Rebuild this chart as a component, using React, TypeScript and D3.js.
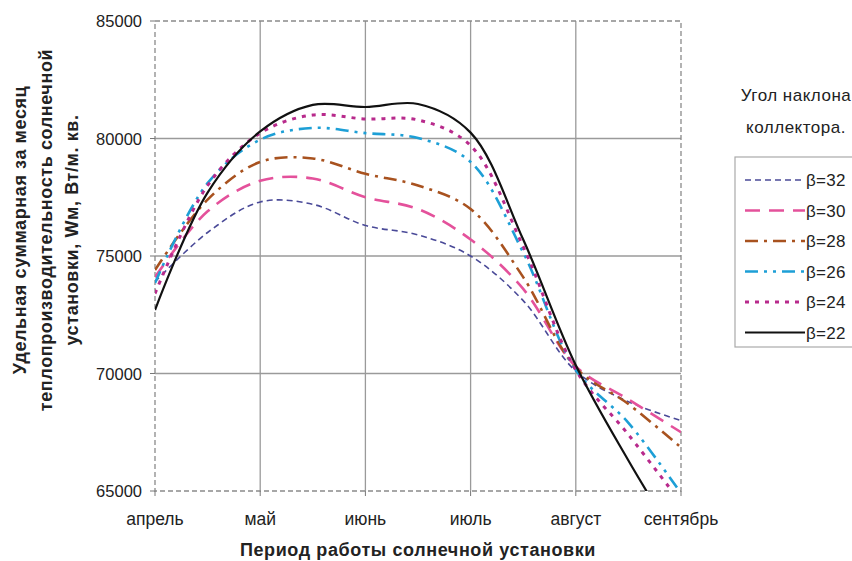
import * as d3 from 'd3';

const months = ['апрель', 'май', 'июнь', 'июль', 'август', 'сентябрь'];
// half-month steps: 0 = апрель, 1 = май ... 5 = сентябрь
const steps = [0, 0.5, 1, 1.5, 2, 2.5, 3, 3.5, 4, 4.5, 5];
const yTicks = [65000, 70000, 75000, 80000, 85000];

const b32 = [73900, 76000, 77300, 77200, 76300, 75900, 75000, 73100, 70100, 68800, 68000];
const b30 = [74100, 76900, 78200, 78300, 77500, 77000, 75700, 73600, 70300, 68900, 67500];
const b28 = [74400, 77400, 79000, 79150, 78500, 78000, 77000, 74100, 70250, 68700, 66850];
const b26 = [73850, 78100, 79950, 80450, 80230, 80020, 79000, 75150, 70150, 67900, 64900];
const b24 = [73400, 78000, 80230, 81000, 80830, 80790, 79700, 75400, 70150, 67400, 64500];
const b22 = [72700, 77700, 80300, 81430, 81340, 81470, 80250, 75700, 70350, 66300, 62600];

const series = [
  { name: 'β=32', values: b32, color: '#4a4a98', width: 1.6, dash: '6 4' },
  { name: 'β=30', values: b30, color: '#e4519b', width: 2.6, dash: '15 9' },
  { name: 'β=28', values: b28, color: '#a8521f', width: 2.6, dash: '13 6 3 6' },
  { name: 'β=26', values: b26, color: '#1d9fd6', width: 2.6, dash: '13 6 3 6 3 6' },
  { name: 'β=24', values: b24, color: '#b82a8c', width: 3, dash: '4 6' },
  { name: 'β=22', values: b22, color: '#111111', width: 2.2, dash: undefined as string | undefined },
];

export default function App() {
  const left = 155;
  const right = 681;
  const top = 21;
  const bottom = 491;
  const x = d3.scaleLinear().domain([0, 5]).range([left, right]);
  const y = d3.scaleLinear().domain([65000, 85000]).range([bottom, top]);
  const line = d3
    .line<number>()
    .x((_, i) => x(steps[i]))
    .y((d) => y(d))
    .curve(d3.curveCatmullRom.alpha(0.5));

  const font = '"Liberation Sans", Arial, sans-serif';
  const legendTop = 180;
  const legendGap = 30.5;

  return (
    <svg
      width={852}
      height={561}
      style={{ position: 'absolute', left: 0, top: 0, background: '#fff' }}
      fontFamily={font}
    >
      <defs>
        <clipPath id="plot">
          <rect x={left} y={top} width={right - left} height={bottom - top} />
        </clipPath>
      </defs>

      {/* grid */}
      {yTicks.slice(1, -1).map((t) => (
        <line key={t} x1={left} x2={right} y1={y(t)} y2={y(t)} stroke="#9a9a9a" strokeWidth={1.3} />
      ))}
      {months.slice(1, -1).map((m, i) => (
        <line key={m} x1={x(i + 1)} x2={x(i + 1)} y1={top} y2={bottom} stroke="#9a9a9a" strokeWidth={1.3} />
      ))}
      <rect
        x={left}
        y={top}
        width={right - left}
        height={bottom - top}
        fill="none"
        stroke="#8a8a8a"
        strokeWidth={1.3}
        strokeDasharray="5 3"
      />

      {/* ticks */}
      {yTicks.map((t) => (
        <g key={t}>
          <line x1={left - 5} x2={left} y1={y(t)} y2={y(t)} stroke="#777" />
          <text x={left - 13} y={y(t) + 6} textAnchor="end" fontSize={16.5} fill="#222">
            {t}
          </text>
        </g>
      ))}
      {months.map((m, i) => (
        <g key={m}>
          <line x1={x(i)} x2={x(i)} y1={bottom} y2={bottom + 5} stroke="#777" />
          <text x={x(i)} y={bottom + 34} textAnchor="middle" fontSize={17.5} fill="#222">
            {m}
          </text>
        </g>
      ))}

      {/* series */}
      <g clipPath="url(#plot)">
        {series.map((s) => (
          <path
            key={s.name}
            d={line(s.values) ?? ''}
            fill="none"
            stroke={s.color}
            strokeWidth={s.width}
            strokeDasharray={s.dash}
          />
        ))}
      </g>

      {/* axis titles */}
      <text x={418} y={556} textAnchor="middle" fontSize={18} fontWeight="bold" letterSpacing={0.6} fill="#222">
        Период работы солнечной установки
      </text>
      <g
        transform="translate(0,230) rotate(-90)"
        fontSize={18}
        fontWeight="bold"
        letterSpacing={0.6}
        fill="#222"
        textAnchor="middle"
      >
        <text x={0} y={26}>Удельная суммарная за месяц</text>
        <text x={0} y={52}>теплопроизводительность солнечной</text>
        <text x={0} y={78}>установки, Wм, Вт/м. кв.</text>
      </g>

      {/* legend */}
      <text x={796} y={101} textAnchor="middle" fontSize={17} letterSpacing={0.5} fill="#222">
        Угол наклона
      </text>
      <text x={796} y={133} textAnchor="middle" fontSize={17} letterSpacing={0.5} fill="#222">
        коллектора.
      </text>
      <rect x={735} y={157} width={130} height={190} fill="#fff" stroke="#aaa" strokeWidth={1.2} />
      {series.map((s, i) => {
        const ly = legendTop + i * legendGap;
        return (
          <g key={s.name}>
            <line
              x1={745}
              x2={805}
              y1={ly}
              y2={ly}
              stroke={s.color}
              strokeWidth={s.width}
              strokeDasharray={s.dash}
            />
            <text x={806} y={ly + 6} fontSize={17} letterSpacing={0.3} fill="#222">
              {s.name}
            </text>
          </g>
        );
      })}
    </svg>
  );
}
